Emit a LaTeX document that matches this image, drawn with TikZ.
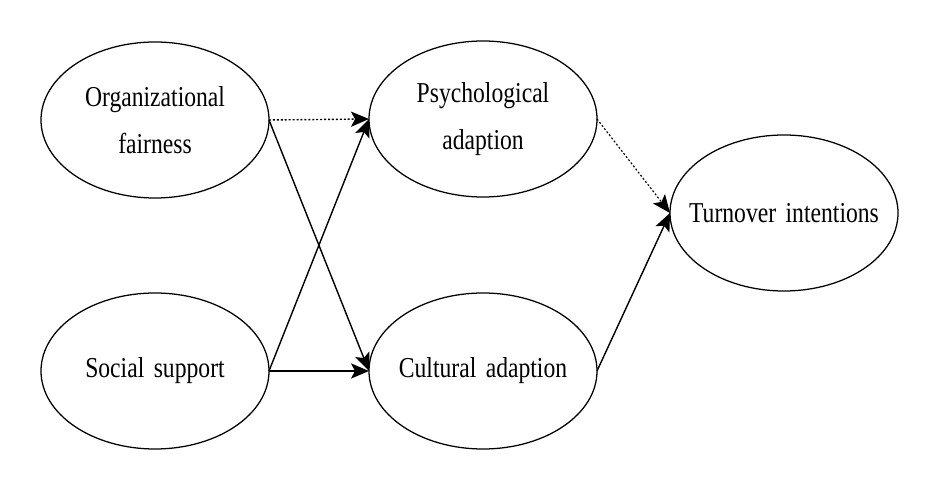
\documentclass[tikz,border=0pt]{standalone}
\usepackage{fontspec}
\setmainfont{Liberation Serif}[FakeStretch=0.82,WordSpace=1.6]
\usetikzlibrary{arrows.meta,positioning,shapes.geometric}
\tikzset{
  varbox/.style={draw=black, ellipse, line width=0.9pt, minimum width=5.7cm,
                 minimum height=3.9cm, inner xsep=-0.8cm, inner ysep=0pt,
                 outer sep=0pt, align=center, font=\fontsize{20.5}{33}\selectfont},
  arr/.style={-{Stealth[length=4.5mm,width=3.8mm,inset=1mm]}, line width=1pt},
  darr/.style={arr, dash pattern=on 1.4pt off 1.4pt}}

\begin{document}
\begin{tikzpicture}
  \useasboundingbox (0,0) rectangle (23.125,12.1);
  \node[varbox] (fair) at (3.875,9.1) {Organizational\\fairness};
  \node[varbox] (psych) at (12.075,9.125) {Psychological\\adaption};
  \node[varbox] (social) at (3.875,2.825) {Social support};
  \node[varbox] (cult) at (12.075,2.825) {Cultural adaption};
  \node[varbox] (turn) at (19.6,6.775) {Turnover intentions};
  % paths
  \draw[darr] (fair.east) -- (psych.west);
  \draw[arr] (fair.east) -- (cult.west);
  \draw[arr] (social.east) -- (psych.west);
  \draw[arr] (social.east) -- (cult.west);
  \draw[darr, line width=0.8pt] (psych.east) -- (turn.west);
  \draw[arr] (cult.east) -- (turn.west);
\end{tikzpicture}
\end{document}
